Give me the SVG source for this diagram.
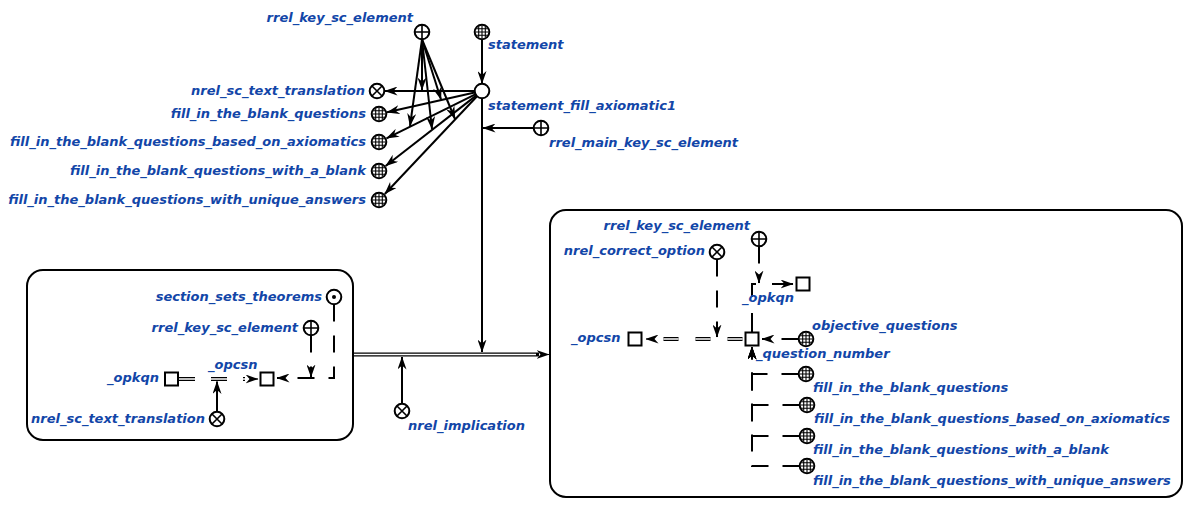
<svg xmlns="http://www.w3.org/2000/svg" width="1197" height="514" viewBox="0 0 1197 514">
<style>
  text { font-family: "DejaVu Sans", "Liberation Sans", sans-serif; font-size: 13px; font-weight: bold; font-style: italic; fill: #1246a8; }
  .e { text-anchor: end; }
  .n { fill: #fff; stroke: #000; stroke-width: 2; }
  .in { stroke: #000; stroke-width: 1.6; fill: none; }
  .gl { stroke: #000; stroke-width: 1.1; fill: none; }
  .a { fill: none; stroke: #000; stroke-width: 2; marker-end: url(#ah); }
  .d { stroke-dasharray: 17 14; }
  .dbl { fill: none; stroke: #000; stroke-width: 4; }
  .dbw { fill: none; stroke: #fff; stroke-width: 1.4; }
  .tip { fill: none; stroke: #000; stroke-width: 1; marker-end: url(#ah); }
  .box { fill: none; stroke: #000; stroke-width: 2; }
  .sq { fill: #fff; stroke: #000; stroke-width: 2; }
</style>
<defs>
  <marker id="ah" viewBox="0 0 13 9" refX="12.5" refY="4.5" markerWidth="13" markerHeight="9" markerUnits="userSpaceOnUse" orient="auto">
    <path d="M0,0 L13,4.5 L0,9 L4,4.5 Z" fill="#000"/>
  </marker>
  <clipPath id="cc"><circle r="6.5"/></clipPath>
  <g id="ncirc"><circle class="n" r="7.3"/></g>
  <g id="nplus"><circle class="n" r="7.3"/><path class="in" d="M-7,0 H7 M0,-7 V7"/></g>
  <g id="ncross"><circle class="n" r="7.3"/><path class="in" d="M-5,-5 L5,5 M-5,5 L5,-5"/></g>
  <g id="ngrid"><circle class="n" r="7.3"/><g clip-path="url(#cc)"><path class="gl" d="M-3.3,-7 V7 M0,-7 V7 M3.3,-7 V7 M-7,-3.3 H7 M-7,0 H7 M-7,3.3 H7"/></g></g>
  <g id="ndot"><circle class="n" r="7.3"/><circle r="2" fill="#000"/></g>
</defs>

<!-- contours -->
<g id="contours">
  <rect id="leftContour" class="box" x="27" y="270" width="326" height="170" rx="16"/>
  <rect id="rightContour" class="box" x="550" y="210" width="632" height="287" rx="16"/>
</g>

<g id="connectors">
  <!-- top -->
  <path class="a" d="M482,39.5 V83.5"/>
  <path class="a" d="M474.5,91 H385"/>
  <path class="a" d="M474.7,92.6 L387,112.3"/>
  <path class="a" d="M475.3,94.3 L386.5,138.4"/>
  <path class="a" d="M476.1,95.6 L385.6,166"/>
  <path class="a" d="M476.8,96.5 L384.8,194"/>
  <path class="a" d="M422,39.5 V90"/>
  <path class="a" d="M422,39.5 L441,99.5"/>
  <path class="a" d="M422,39.5 L410,126"/>
  <path class="a" d="M422,39.5 L432,129"/>
  <path class="a" d="M422,39.5 L455,119"/>
  <path class="a" d="M533.5,128 H483"/>
  <path class="a" d="M482,98.5 V352"/>
  <!-- main double arc -->
  <path class="dbl" d="M354,354.5 H539"/>
  <path class="dbw" d="M354,354.5 H536"/>
  <path class="tip" d="M541,354.5 H549"/>
  <path class="a" d="M402,403.5 V357"/>

  <!-- left contour -->
  <path class="dbl" d="M179,379 H245" stroke-dasharray="16 16"/>
  <path class="dbw" d="M179,379 H245" stroke-dasharray="16 16"/>
  <path class="tip" d="M251,379 H258"/>
  <path class="a" d="M217,411.5 V381.5"/>
  <path class="a d" d="M334,304.5 V378 H277"/>
  <path class="a d" d="M311,335.5 V377"/>

  <!-- right contour -->
  <path class="a d" d="M717,259.5 V337"/>
  <path class="a d" d="M759,246.5 V283"/>
  <path class="a" d="M752,332.5 V284 H793" stroke-dasharray="19.5 16 17 16 30"/>
  <path class="dbl" d="M745.5,339 H660" stroke-dasharray="15 17" stroke-dashoffset="29"/>
  <path class="dbw" d="M745.5,339 H660" stroke-dasharray="15 17" stroke-dashoffset="29"/>
  <path class="tip" d="M653,339 H646"/>
  <path class="a d" d="M798.5,339 H762"/>
  <path class="a d" d="M798.5,374 H752 V347"/>
  <path class="a d" d="M799.5,405 H752 V347"/>
  <path class="a d" d="M799.5,436 H752 V347"/>
  <path class="a d" d="M799.5,466 H752 V347"/>
</g>

<!-- top nodes -->
<g id="rrelKeyTop"><use href="#nplus" x="422" y="32"/><text class="e" x="413" y="22">rrel_key_sc_element</text></g>
<g id="statement"><use href="#ngrid" x="482" y="32"/><text x="488" y="49">statement</text></g>
<g id="statementFillAxiomatic1"><use href="#ncirc" x="482" y="91"/><text x="488" y="110">statement_fill_axiomatic1</text></g>
<g id="rrelMainKey"><use href="#nplus" x="541" y="128"/><text x="549" y="147">rrel_main_key_sc_element</text></g>
<g id="nrelTranslationTop"><use href="#ncross" x="377" y="91"/><text class="e" x="365" y="95">nrel_sc_text_translation</text></g>
<g id="fitbQuestionsTop"><use href="#ngrid" x="379" y="114"/><text class="e" x="366" y="118">fill_in_the_blank_questions</text></g>
<g id="fitbAxiomTop"><use href="#ngrid" x="379" y="142"/><text class="e" x="366" y="146">fill_in_the_blank_questions_based_on_axiomatics</text></g>
<g id="fitbBlankTop"><use href="#ngrid" x="379" y="171"/><text class="e" x="366" y="175">fill_in_the_blank_questions_with_a_blank</text></g>
<g id="fitbUniqueTop"><use href="#ngrid" x="379" y="200"/><text class="e" x="366" y="204">fill_in_the_blank_questions_with_unique_answers</text></g>
<g id="nrelImplication"><use href="#ncross" x="402" y="411"/><text x="408" y="430">nrel_implication</text></g>

<!-- left contour nodes -->
<g id="sectionSetsTheorems"><use href="#ndot" x="334" y="297"/><text class="e" x="322" y="301">section_sets_theorems</text></g>
<g id="rrelKeyLeft"><use href="#nplus" x="311" y="328"/><text class="e" x="298" y="332">rrel_key_sc_element</text></g>
<g id="opcsnLeft"><rect class="sq" x="260.5" y="372.5" width="13" height="13"/><text x="208" y="369">_opcsn</text></g>
<g id="opkqnLeft"><rect class="sq" x="165" y="372.5" width="13" height="13"/><text class="e" x="159" y="382">_opkqn</text></g>
<g id="nrelTranslationLeft"><use href="#ncross" x="217" y="419"/><text class="e" x="205" y="423">nrel_sc_text_translation</text></g>

<!-- right contour nodes -->
<g id="rrelKeyRight"><use href="#nplus" x="759" y="239"/><text class="e" x="750" y="230">rrel_key_sc_element</text></g>
<g id="nrelCorrectOption"><use href="#ncross" x="717" y="252"/><text class="e" x="705" y="255">nrel_correct_option</text></g>
<g id="opkqnRight"><rect class="sq" x="796.5" y="277.5" width="13" height="13"/><text x="742" y="302">_opkqn</text></g>
<g id="opcsnRight"><rect class="sq" x="628.5" y="332.5" width="13" height="13"/><text x="571" y="342">_opcsn</text></g>
<g id="questionNumber"><rect class="sq" x="745.5" y="332.5" width="13" height="13"/><text x="756" y="358">_question_number</text></g>
<g id="objectiveQuestions"><use href="#ngrid" x="806" y="339"/><text x="812" y="330">objective_questions</text></g>
<g id="fitbQuestionsRight"><use href="#ngrid" x="806" y="374"/><text x="813" y="392">fill_in_the_blank_questions</text></g>
<g id="fitbAxiomRight"><use href="#ngrid" x="807" y="405"/><text x="814" y="423">fill_in_the_blank_questions_based_on_axiomatics</text></g>
<g id="fitbBlankRight"><use href="#ngrid" x="807" y="436"/><text x="813" y="454">fill_in_the_blank_questions_with_a_blank</text></g>
<g id="fitbUniqueRight"><use href="#ngrid" x="807" y="466"/><text x="813" y="485">fill_in_the_blank_questions_with_unique_answers</text></g>
</svg>
